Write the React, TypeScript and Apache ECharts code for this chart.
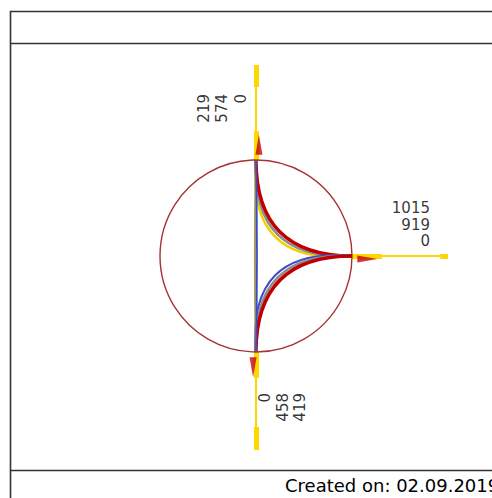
import React, { useEffect, useRef } from 'react';
import * as echarts from 'echarts';

// ---- data ----
const NODE_NAMES = ['top', 'right', 'bottom'];
const NODE_ANGLES = [90, 0, -90];
const NODE_VALUES = [
  ['219', '574', '0'],
  ['1015', '919', '0'],
  ['0', '458', '419'],
];
// yellow axis: inner bar end, outer bar start, axis end (radius units)
const AXIS_INNER_BAR_END = [1.3, 1.31, 1.27];
const AXIS_OUTER_BAR_START = [1.76, 1.92, 1.78];
const AXIS_END = [1.99, 2.0, 2.02];
// flows between nodes
const FLOW_SOURCE = [0, 0, 0, 2, 2, 2, 0, 0];
const FLOW_TARGET = [1, 1, 1, 1, 1, 1, 2, 2];
const FOOTER_TEXT = 'Created on: 02.09.2019';

// ---- styles / layout ----
const FLOW_COLORS = ['#f2d000', '#8c8c8c', '#c00000', '#3a4cc8', '#8c8c8c', '#c00000', '#a09a62', '#3a4cc8'];
const FLOW_WIDTHS = [2.4, 2.6, 3.4, 2, 2.6, 3.4, 2.2, 1.8];
const FLOW_BEND = [0.6, 0.55, 0.5, 0.6, 0.55, 0.5, -0.0104, 0.0104];
const LABEL_ANCHOR = [
  [-0.354, 1.6875],
  [1.8125, 0.328],
  [0.281, -1.427],
];
const LABEL_ROTATE = [90, 0, 90];
const LABEL_LINE_HEIGHT = [18.5, 16.5, 17.5];
const ARROW_R = 1.16;
const ARROW_SHIFT_DEG = 1.5;
const YELLOW = '#ffd700';

function polar(r: number, deg: number): [number, number] {
  const a = (deg * Math.PI) / 180;
  return [r * Math.cos(a), r * Math.sin(a)];
}

export default function App() {
  const ref = useRef<HTMLDivElement>(null);
  useEffect(() => {
    if (!ref.current) return;
    const chart = echarts.init(ref.current, undefined, { renderer: 'svg' });

    const axisData: any[] = [];
    NODE_ANGLES.forEach((ang, i) => {
      axisData.push({ coords: [polar(1, ang), polar(AXIS_END[i], ang)], lineStyle: { width: 2 } });
      axisData.push({ coords: [polar(1, ang), polar(AXIS_INNER_BAR_END[i], ang)], lineStyle: { width: 5 } });
      axisData.push({ coords: [polar(AXIS_OUTER_BAR_START[i], ang), polar(AXIS_END[i], ang)], lineStyle: { width: 5 } });
    });

    const flowData = FLOW_SOURCE.map((s, i) => {
      const t = FLOW_TARGET[i];
      const q1 = polar(1, NODE_ANGLES[s]);
      const q2 = polar(1, NODE_ANGLES[t]);
      const vx = -(q2[1] - q1[1]);
      const vy = q1[0] - q2[0];
      const mx = (q1[0] + q2[0]) / 2;
      const my = (q1[1] + q2[1]) / 2;
      const dot = vx * -mx + vy * my;
      const sgn = Math.abs(dot) < 1e-9 ? 1 : Math.sign(dot);
      return {
        coords: [q1, q2],
        lineStyle: { color: FLOW_COLORS[i], width: FLOW_WIDTHS[i], curveness: sgn * FLOW_BEND[i] },
      };
    });

    const arrowData = NODE_ANGLES.map((ang) => ({
      value: polar(ARROW_R, ang - ARROW_SHIFT_DEG),
      symbolRotate: ang - 90,
    }));

    const labelData = NODE_NAMES.map((n, i) => ({
      name: n,
      value: LABEL_ANCHOR[i],
      label: {
        rotate: LABEL_ROTATE[i],
        align: 'right',
        verticalAlign: 'middle',
        lineHeight: LABEL_LINE_HEIGHT[i],
      },
    }));

    chart.setOption({
      animation: false,
      backgroundColor: '#ffffff',
      grid: { left: 16, top: 16, width: 470.4, height: 470.4, outerBoundsMode: 'none' },
      xAxis: { type: 'value', min: -2.5, max: 2.4, show: false },
      yAxis: { type: 'value', min: -2.4, max: 2.5, show: false },
      graphic: [
        {
          type: 'rect',
          shape: { x: 10.5, y: 11.5, width: 600, height: 600 },
          style: { fill: 'none', stroke: '#333', lineWidth: 1.6 },
          silent: true,
        },
        {
          type: 'line',
          shape: { x1: 10.5, y1: 43.5, x2: 600, y2: 43.5 },
          style: { stroke: '#333', lineWidth: 1.6 },
        },
        {
          type: 'line',
          shape: { x1: 10.5, y1: 470.5, x2: 600, y2: 470.5 },
          style: { stroke: '#333', lineWidth: 1.6 },
        },
        {
          type: 'text',
          x: 285,
          y: 485.5,
          style: {
            text: FOOTER_TEXT,
            font: '18px "DejaVu Sans"',
            fill: '#000',
            textAlign: 'left',
            textVerticalAlign: 'middle',
          },
        },
      ],
      series: [
        {
          type: 'lines',
          coordinateSystem: 'cartesian2d',
          polyline: false,
          lineStyle: { color: YELLOW, opacity: 1 },
          data: axisData,
          z: 1,
        },
        {
          type: 'custom',
          coordinateSystem: 'cartesian2d',
          data: [[0, 0]],
          renderItem: (params: any, api: any) => {
            const c = api.coord([0, 0]);
            const r = api.size([1, 0])[0];
            return {
              type: 'circle',
              shape: { cx: c[0], cy: c[1], r },
              style: { fill: 'none', stroke: '#a83232', lineWidth: 1.4 },
            };
          },
          z: 2,
        },
        {
          type: 'lines',
          coordinateSystem: 'cartesian2d',
          lineStyle: { opacity: 1 },
          data: flowData,
          z: 3,
        },
        {
          type: 'scatter',
          symbol: 'triangle',
          symbolSize: [7, 20],
          itemStyle: { color: '#c80000' },
          data: arrowData,
          z: 4,
        },
        {
          type: 'scatter',
          symbol: 'circle',
          symbolSize: 1,
          itemStyle: { color: 'rgba(0,0,0,0)' },
          label: {
            show: true,
            position: 'inside',
            fontFamily: 'DejaVu Sans',
            fontSize: 15,
            color: '#000',
            formatter: (p: any) => NODE_VALUES[p.dataIndex].join('\n'),
          },
          data: labelData,
          z: 5,
        },
      ],
    });
    return () => chart.dispose();
  }, []);
  return (
    <div
      ref={ref}
      style={{ position: 'absolute', left: 0, top: 0, width: 492, height: 498, background: '#fff' }}
    />
  );
}
